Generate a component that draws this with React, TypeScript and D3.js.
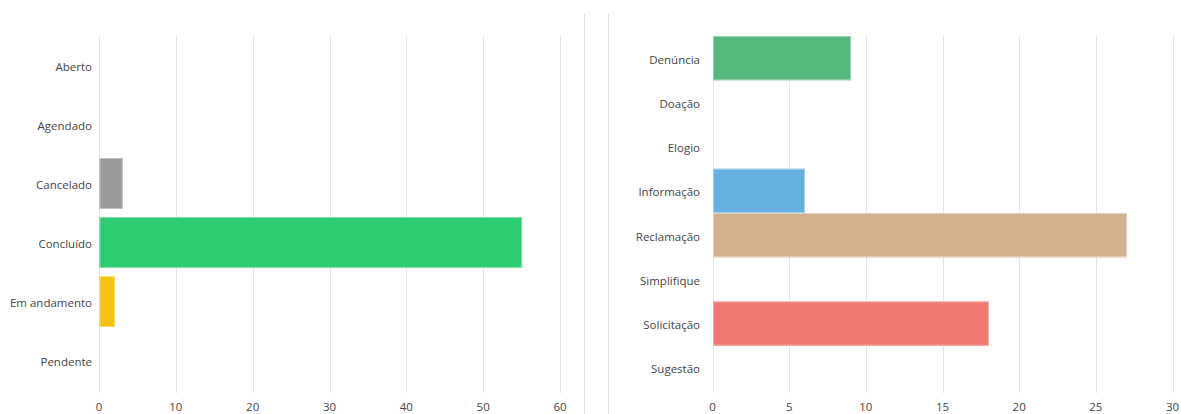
import React from "react";
import * as d3 from "d3";

const leftCategories = ["Aberto", "Agendado", "Cancelado", "Concluído", "Em andamento", "Pendente"];
const leftValues = [0, 0, 3, 55, 2, 0];
const leftColors = ["#9a9a9a", "#9a9a9a", "#9a9a9a", "#2ecc71", "#f1c40f", "#9a9a9a"];
const leftTicks = [0, 10, 20, 30, 40, 50, 60];

const rightCategories = ["Denúncia", "Doação", "Elogio", "Informação", "Reclamação", "Simplifique", "Solicitação", "Sugestão"];
const rightValues = [9, 0, 0, 6, 27, 0, 18, 0];
const rightColors = ["#55b77e", "#9a9a9a", "#9a9a9a", "#65b1e2", "#d2b18f", "#9a9a9a", "#ee7970", "#9a9a9a"];
const rightTicks = [0, 5, 10, 15, 20, 25, 30];

const FONT = "'Open Sans', 'Segoe UI', sans-serif";
const TEXT = "#444";
const GRID = "#e4e4e4";

type PanelProps = {
  cats: string[];
  vals: number[];
  colors: string[];
  ticks: number[];
  x0: number;
  x1: number;
  labelGap: number;
  pInner: number;
  pOuter: number;
};

function Panel({ cats, vals, colors, ticks, x0, x1, labelGap, pInner, pOuter }: PanelProps) {
  const top = 36;
  const bottom = 390;
  const x = d3.scaleLinear().domain([ticks[0], ticks[ticks.length - 1]]).range([x0, x1]);
  const y = d3.scaleBand<string>().domain(cats).range([top, bottom]).paddingInner(pInner).paddingOuter(pOuter);
  const band = d3.scaleBand<string>().domain(cats).range([top, bottom]);
  return (
    <g>
      {ticks.map((t) => (
        <g key={t}>
          <line x1={Math.round(x(t)) + 0.5} x2={Math.round(x(t)) + 0.5} y1={top} y2={bottom + 3} stroke={GRID} strokeWidth={1} />
          <text x={x(t)} y={411} textAnchor="middle" fontFamily={FONT} fontSize={11.5} fill={TEXT}>{t}</text>
        </g>
      ))}
      {cats.map((c) => (
        <text key={c} x={x0 - labelGap} y={(band(c) ?? 0) + band.bandwidth() / 2 + 5.5} textAnchor="end" fontFamily={FONT} fontSize={11.5} fill={TEXT}>{c}</text>
      ))}
      {cats.map((c, i) => {
        const v = vals[i];
        if (v <= 0) return null;
        const bx = x(0) + 0.5;
        const bw = x(v) - x(0);
        const by = y(c) ?? 0;
        const bh = y.bandwidth();
        const stroke = d3.interpolateRgb(colors[i], "#ffffff")(0.4);
        return (
          <g key={c}>
            <rect x={bx} y={by} width={bw} height={bh} fill={colors[i]} />
            <rect x={bx + 0.5} y={by + 0.5} width={bw - 1} height={bh - 1} fill="none" stroke={stroke} strokeWidth={1} />
          </g>
        );
      })}
    </g>
  );
}

export default function App() {
  return (
    <svg width={1181} height={414} style={{ position: "absolute", left: 0, top: 0, background: "#fff" }}>
      <line x1={584.5} x2={584.5} y1={14} y2={414} stroke="#e2e2e2" strokeWidth={1} />
      <line x1={608.5} x2={608.5} y1={14} y2={414} stroke="#e2e2e2" strokeWidth={1} />
      <Panel cats={leftCategories} vals={leftValues} colors={leftColors} ticks={leftTicks} x0={99} x1={560} labelGap={7} pInner={0.136} pOuter={0.068} />
      <Panel cats={rightCategories} vals={rightValues} colors={rightColors} ticks={rightTicks} x0={712.5} x1={1172.5} labelGap={12.5} pInner={0} pOuter={0} />
    </svg>
  );
}
